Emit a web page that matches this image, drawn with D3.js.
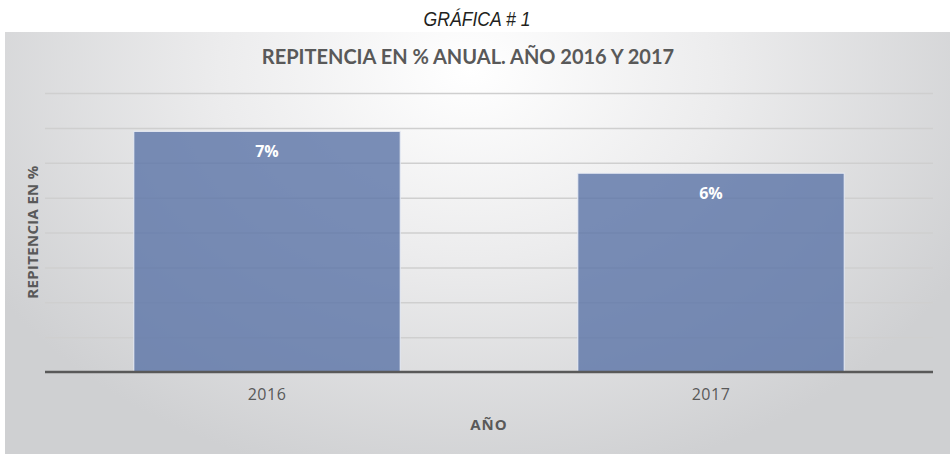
<!DOCTYPE html>
<html>
<head>
<meta charset="utf-8">
<script src="https://cdn.jsdelivr.net/npm/d3@7"></script>
<style>
	body { margin: 0; background: #fff; }
	svg { display: block; }
</style>
</head>
<body>
<div id="wrapper"></div>
<script>

	// 1. Data

	const years = ["2016", "2017"];
	const repitencia = [0.069, 0.057];
	const barLabels = ["7%", "6%"];
	const yTicks = [0, 0.01, 0.02, 0.03, 0.04, 0.05, 0.06, 0.07, 0.08];

	// 2. Dimensions

	let dimensions = {
		width: 950,
		height: 454,
		margin: { top: 93, right: 17, bottom: 82, left: 45 }
	};
	dimensions.boundedWidth = dimensions.width - dimensions.margin.left - dimensions.margin.right;
	dimensions.boundedHeight = dimensions.height - dimensions.margin.top - dimensions.margin.bottom;

	// 3. Static elements

	const wrapper = d3.select("#wrapper")
						.append("svg")
						.attr("width", dimensions.width)
						.attr("height", dimensions.height);

	const defs = wrapper.append("defs");
	const grad = defs.append("radialGradient")
						.attr("id", "bg")
						.attr("gradientUnits", "userSpaceOnUse")
						.attr("cx", 470).attr("cy", 70).attr("r", 560)
						.attr("gradientTransform", "translate(470,70) scale(1,0.75) translate(-470,-70)");
	grad.append("stop").attr("offset", "0%").attr("stop-color", "#ffffff");
	grad.append("stop").attr("offset", "45%").attr("stop-color", "#ececed");
	grad.append("stop").attr("offset", "100%").attr("stop-color", "#cfd0d2");

	wrapper.append("rect")
			.attr("x", 5).attr("y", 32)
			.attr("width", dimensions.width - 5)
			.attr("height", dimensions.height - 32)
			.attr("fill", "url(#bg)");

	// condensed italic heading (narrowed by scaling)
	wrapper.append("text")
			.attr("transform", "translate(477,26) scale(0.88,1)")
			.attr("text-anchor", "middle")
			.style("font-family", "'Liberation Sans', Arial, sans-serif")
			.style("font-style", "italic")
			.style("font-size", "20px")
			.style("fill", "#231f20")
			.text("GRÁFICA # 1");

	wrapper.append("text")
			.attr("x", 468).attr("y", 64)
			.attr("text-anchor", "middle")
			.style("font-family", "Lato, 'Open Sans', sans-serif")
			.style("font-weight", "bold")
			.style("font-size", "20px")
			.style("fill", "#595959")
			.text("REPITENCIA EN % ANUAL. AÑO 2016 Y 2017");

	const bounds = wrapper.append("g")
						.attr("transform", `translate(${dimensions.margin.left},${dimensions.margin.top})`);

	// 4. Scales

	const x = d3.scaleBand()
				.domain(years)
				.range([0, dimensions.boundedWidth])
				.paddingInner(0.4)
				.paddingOuter(0.2);

	const y = d3.scaleLinear()
				.domain([0, 0.08])
				.range([dimensions.boundedHeight, 0]);

	// 5. Gridlines

	bounds.append("g")
			.call(d3.axisLeft(y).tickValues(yTicks.slice(1)).tickSize(-dimensions.boundedWidth).tickFormat(""))
			.call(g => g.select(".domain").remove())
			.selectAll("line")
			.style("stroke", "#cfcfcf")
			.style("stroke-width", "1.5px");

	// 6. Bars

	bounds.selectAll("rect.bar")
			.data(repitencia)
			.enter()
			.append("rect")
			.attr("class", "bar")
			.attr("x", (d, i) => x(years[i]))
			.attr("y", d => y(d))
			.attr("width", x.bandwidth())
			.attr("height", d => y(0) - y(d))
			.style("fill", "#5a73a6")
			.style("fill-opacity", 0.8)
			.style("stroke", "#e9edf5")
			.style("stroke-width", "1px");

	bounds.selectAll("text.value")
			.data(repitencia)
			.enter()
			.append("text")
			.attr("class", "value")
			.attr("x", (d, i) => x(years[i]) + x.bandwidth() / 2)
			.attr("y", d => y(d) + 26)
			.attr("text-anchor", "middle")
			.style("font-family", "'Open Sans', sans-serif")
			.style("font-weight", "bold")
			.style("font-size", "16px")
			.style("fill", "#ffffff")
			.text((d, i) => barLabels[i]);

	// 7. Axes

	const xAxis = bounds.append("g")
						.attr("transform", `translate(0,${dimensions.boundedHeight})`)
						.call(d3.axisBottom(x).tickSize(0).tickPadding(17));
	xAxis.select(".domain")
			.attr("d", `M0,0H${dimensions.boundedWidth}`)
			.style("stroke", "#595959")
			.style("stroke-width", "2.5px");
	xAxis.selectAll("text")
			.style("font-family", "'Open Sans', sans-serif")
			.style("font-size", "16px")
			.style("letter-spacing", "0.5px")
			.style("fill", "#595959");

	wrapper.append("text")
			.attr("x", 489).attr("y", 430)
			.attr("text-anchor", "middle")
			.style("font-family", "'Open Sans', sans-serif")
			.style("font-weight", "bold")
			.style("font-size", "15px")
			.style("letter-spacing", "1px")
			.style("fill", "#595959")
			.text("AÑO");

	wrapper.append("text")
			.attr("transform", "translate(38,232) rotate(-90)")
			.attr("text-anchor", "middle")
			.style("font-family", "'Open Sans', sans-serif")
			.style("font-weight", "bold")
			.style("font-size", "15px")
			.style("letter-spacing", "0.3px")
			.style("fill", "#595959")
			.text("REPITENCIA EN %");

</script>
</body>
</html>
